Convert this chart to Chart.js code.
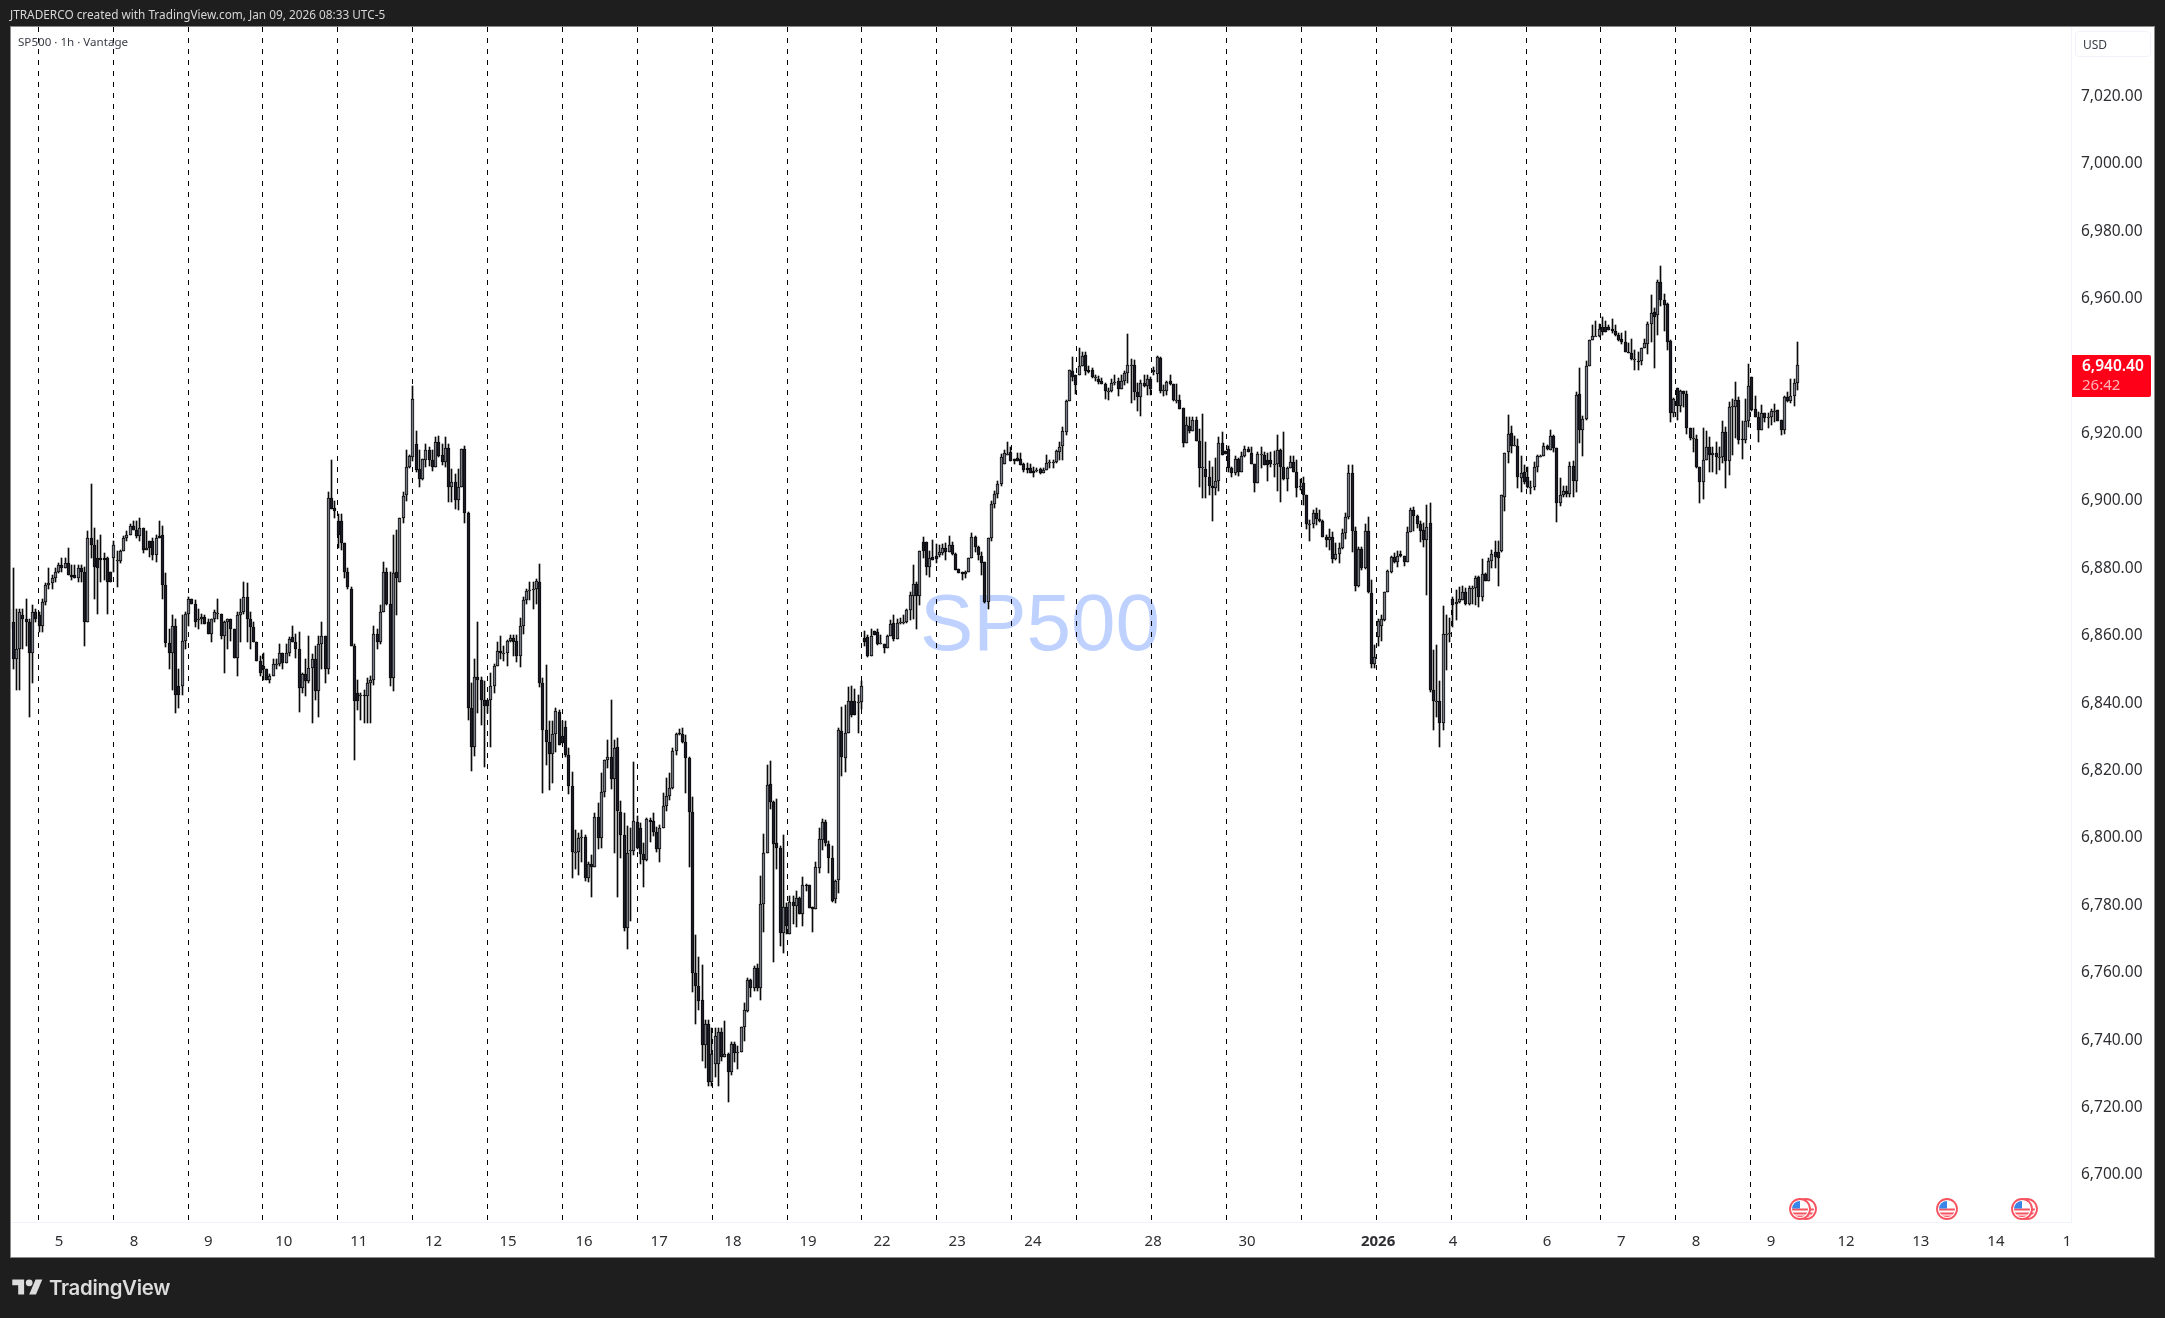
<!DOCTYPE html>
<html><head><meta charset="utf-8"><title>SP500</title>
<script src="https://cdn.jsdelivr.net/npm/chart.js@4/dist/chart.umd.min.js"></script>
<style>
html,body{margin:0;padding:0;background:#1e1e1e;width:2165px;height:1318px;overflow:hidden;font-family:"Noto Sans",sans-serif}
#panel{position:absolute;left:10px;top:26px;width:2143px;height:1230px;background:#fff;border:1px solid #8a8a8a}
canvas{position:absolute;left:0;top:0}
.t{position:absolute;white-space:nowrap}
#head{left:10px;top:5px;font-size:11.8px;line-height:18px;color:#d6d6d6}
#sym{left:18px;top:34px;font-size:11.6px;line-height:16px;color:#3a3d46}
#usd{left:2075px;top:31px;width:76px;height:26px;box-sizing:border-box;border:1px solid #f0f3fa;border-radius:4px;font-size:12px;line-height:26px;padding-left:7px;color:#3a3d46}
#last{left:2072px;top:355px;width:79px;height:42px;background:#ff0019;border-radius:0 2px 2px 0}
#last b{position:absolute;left:10px;top:0;font-size:15.5px;line-height:21px;color:#fff;font-weight:600}
#last i{position:absolute;left:10px;top:19px;font-size:15px;line-height:21px;color:#ffb3ba;font-style:normal}
#brand{left:49px;top:1274px;font-family:Inter,"Noto Sans",sans-serif;font-weight:600;font-size:20.4px;line-height:28px;color:#dcdcdc;letter-spacing:-.3px}
svg{position:absolute}
</style></head><body>
<div id="panel"></div>
<canvas id="c" width="2165" height="1318"></canvas>
<div class="t" id="head">JTRADERCO created with TradingView.com, Jan 09, 2026 08:33 UTC-5</div>
<div class="t" id="sym">SP500 · 1h · Vantage</div>
<div class="t" id="usd">USD</div>
<div class="t" id="last"><b>6,940.40</b><i>26:42</i></div>
<svg style="left:12px;top:1276px" width="31" height="22" viewBox="0 0 36 26" fill="#dcdcdc"><path d="M14 22H7V11H0V4h14v18zM28 22h-8l7.5-18h8L28 22z"/><circle cx="20" cy="8" r="4"/></svg>
<div class="t" id="brand">TradingView</div>
<script>
const opens=[
6868,6864,6853,6856,6866,6865,6864,6855,6867,6866,
6863,6870,6875,6875.5,6877,6879,6881,6880,6881.5,6878,
6878,6877,6880,6879,6864,6889,6887,6883,6883,6883,
6883,6879,6883,6882.5,6882.3,6885,6889,6890,6892.5,6891.5,
6889.5,6892,6885.5,6888,6888,6884,6889.5,6890,6875,6857.7,
6855,6863,6845,6845,6858.5,6866.5,6871,6869.5,6865,6865,
6865.5,6864,6860.5,6865,6866.5,6866.5,6860,6864,6865,6862,
6853.5,6866,6867,6871.5,6865,6862.5,6858,6852.5,6851,6850,
6847,6848,6851.5,6851.5,6855,6852,6855,6859.5,6858,6856,
6844.5,6848.7,6846.5,6850.5,6853,6843.5,6857.5,6860,6850,6901,
6898,6894,6894,6887.5,6879,6874,6857,6843,6842,6842.5,
6842,6846,6847,6860.5,6858,6867,6879,6869.5,6847.5,6879,
6876,6895,6901.8,6910.2,6912.9,6916.8,6909.4,6906.4,6912,6915,
6912,6910,6917.4,6913.7,6911.4,6915.6,6904.2,6905.5,6900.3,6904.2,
6915.3,6896.3,6838.5,6827,6847.7,6846.8,6841,6841,6841,6845,
6851,6855.6,6854.5,6855,6858.5,6859.3,6858.5,6853.9,6863,6870.7,
6873.5,6873.7,6873.8,6876,6846,6832.1,6828.6,6825,6830.8,6837.3,
6830.2,6832.8,6824.5,6815.5,6795.9,6795.9,6799.9,6800.3,6788,6792.4,
6791.3,6806.3,6800,6813.7,6823.1,6823.9,6817.5,6826.9,6807.8,6801,
6773.2,6796,6796,6804.6,6803,6795.2,6793.6,6805.3,6804.9,6801.8,
6796.7,6803,6809.4,6812.5,6814.8,6825.9,6831,6830.9,6828.6,6823.8,
6807.8,6759.9,6756,6751.8,6738.5,6744.7,6727.6,6732.8,6732.8,6742.5,
6735,6736,6730.7,6739,6736.5,6736.6,6744,6748.7,6757.8,6755.6,
6761.5,6755.6,6780.4,6795.4,6815.9,6810.8,6798.4,6797,6771.8,6779.5,
6771.6,6781,6779.8,6782.2,6777.4,6785.9,6785.9,6779.4,6779,6791.2,
6799.5,6804.7,6798.1,6794,6781.9,6787.5,6831.7,6823.8,6831.2,6840.5,
6840.5,6840.3,6840.3,6859.3,6859.6,6853.9,6861.3,6861.1,6857.8,6857.4,
6856.5,6859.9,6863.8,6859,6863.9,6864,6864,6867.7,6871.9,6875.2,
6871.9,6887.7,6887.7,6880.3,6883.4,6883.6,6884,6884.5,6886.1,6884.9,
6886.9,6884.2,6879.7,6878.9,6878.3,6879,6883,6889.4,6886.4,6883.6,
6882,6870,6889,6899,6902,6905,6910.9,6914,6914.4,6912.4,
6912.7,6912.4,6910.9,6909.9,6909.7,6909,6909.2,6909.4,6908.2,6909.2,
6911.5,6911.5,6911.5,6914.6,6916.3,6920.3,6929.5,6938.4,6937.4,6937.4,
6940,6943.2,6938.9,6938.7,6936.7,6936.2,6935.5,6934.6,6932.7,6932.7,
6934.9,6935.6,6933.1,6935.7,6937.9,6940.4,6940.4,6932.4,6930.7,6934.9,
6934.1,6936.1,6938.1,6937.7,6942.5,6932.9,6932.7,6935.7,6934.6,6930,
6929.8,6927.5,6917.1,6922.1,6920.6,6924,6917.8,6910.2,6909.5,6907,
6904.5,6903.7,6906,6917.1,6914.9,6915.3,6909.9,6908.4,6912.4,6908.7,
6913.3,6915.3,6914.3,6911,6905.2,6914,6913.6,6912,6912.2,6911,
6911,6915.1,6910.2,6906.4,6909.9,6911.4,6908.7,6904.4,6905.2,6901.6,
6893.1,6893,6896.3,6894.6,6893.9,6889.4,6888.4,6889.4,6882.7,6884.2,
6886,6890.4,6895.3,6908.2,6891.2,6874.6,6885.7,6880,6891.1,6872.8,
6851.5,6859.7,6862.9,6864.7,6872.9,6879,6883.3,6882,6884.2,6883.7,
6882,6890.9,6897.3,6895.6,6893,6891.4,6888.4,6893.4,6843.9,6840.5,
6840.5,6834.1,6860.5,6860.5,6870.9,6869.4,6870,6870.7,6873.1,6869.4,
6874.1,6874.1,6877.3,6871.6,6878.3,6876.1,6882.3,6884.7,6884.7,6885,
6901.3,6914.4,6920.1,6916.6,6916.4,6906.9,6908.7,6907,6904.1,6904,
6910,6913.2,6913.2,6916.2,6915.2,6919.3,6915.6,6899.3,6901.6,6902.8,
6902.1,6910.4,6905.8,6931.7,6921.1,6924.3,6939.9,6947.6,6949,6948.8,
6951.5,6951.5,6951.7,6951,6950.3,6949.2,6948,6947,6944.3,6943.8,
6942,6941.6,6941.4,6945.3,6946.6,6952.5,6956,6955.2,6964.9,6959.7,
6958.4,6947.5,6926.2,6933.4,6928.3,6932.5,6931.7,6921.6,6918.6,6918.3,
6910,6905.6,6912,6916,6913.5,6914.2,6913,6913,6920.4,6911.7,
6928.2,6927.8,6930,6918.3,6918.1,6923.6,6936.7,6927.2,6924.8,6921.1,
6926,6925,6925,6926.7,6926.9,6923.9,6921.1,6930.8,6929.5,6931,6934.9];
const highs=[
6870,6880,6868,6868,6868,6871,6865,6869,6868,6867,
6871,6875.5,6880,6878,6880,6881.5,6883,6883,6886,6881,
6881,6881,6881,6880.5,6891,6905,6892,6888.5,6890,6884.5,
6883.5,6879,6888,6885,6885.5,6889.5,6891,6893,6894,6894,
6895,6892,6891,6888,6889,6890,6894,6892.5,6878.5,6862,
6866,6865,6850,6866,6867,6871.5,6871,6870.5,6868,6866.5,
6866,6865,6865,6867.5,6871,6866.5,6864.5,6865,6865,6862,
6867,6871,6876,6875.5,6867,6864,6858,6854,6855,6850,
6848.5,6853,6853,6857.5,6855,6857.5,6859.5,6863,6860.5,6861,
6849,6853,6860,6854.5,6857,6860,6864,6860,6902.5,6912,
6900,6896,6896,6887.5,6880,6874.5,6857.5,6847,6843,6844,
6847.5,6848,6863,6862,6869,6882,6880,6879,6890,6891.5,
6895,6902.5,6915,6913.5,6934,6920.8,6915,6912.3,6917,6916,
6915,6919,6919.3,6917,6919,6917,6909.4,6908,6909.4,6915.3,
6916.3,6896.8,6846,6853,6864,6847.7,6846.5,6841,6848.8,6851.7,
6858,6859.8,6856.9,6858.7,6860.1,6860.3,6860.3,6865.4,6871.5,6874,
6875.8,6875.8,6876.9,6881.2,6847.5,6851.3,6834.6,6834.6,6838.6,6838,
6834.6,6834.6,6826.7,6819.6,6802.4,6801.5,6802.5,6800.8,6792.8,6794.9,
6807.3,6810.3,6819.3,6823.1,6829.1,6841,6829.1,6829.7,6811,6807.4,
6803.5,6802.9,6822.4,6806.5,6804.4,6798.4,6806,6805.8,6807.3,6803.3,
6803.9,6813.4,6817.7,6819.3,6826.7,6831,6832.3,6832.7,6830.6,6823.9,
6812.1,6771.3,6764.6,6762.4,6746.1,6746.1,6743.5,6743.5,6743.5,6743.5,
6745.7,6736.3,6739.5,6739.5,6738.2,6743.8,6751.1,6758.3,6758.1,6762.1,
6762.6,6788.8,6801.3,6821.6,6822.7,6811,6811.6,6797.5,6801,6780.6,
6782.8,6782.8,6784.3,6782.5,6788.3,6786.4,6785.9,6779.5,6792.8,6802.8,
6805.5,6805.3,6799.1,6797.5,6787.5,6832.5,6838.9,6839.4,6844.7,6845,
6844.3,6842.5,6846.6,6861.4,6860.1,6862.1,6861.3,6862.1,6860.3,6857.4,
6860.1,6864.8,6866.1,6865.1,6865.4,6866.2,6868,6873,6881,6876,
6885.2,6889.2,6887.9,6885.2,6888.4,6887.2,6886.9,6887.2,6887.4,6889.6,
6887.9,6884.4,6879.7,6878.9,6879.3,6883,6890.6,6889.6,6886.6,6884.9,
6882,6888.9,6900,6903,6906,6913.8,6915.1,6917.6,6916.1,6912.4,
6914.1,6914.1,6911.2,6911.2,6911,6910.2,6909.7,6909.7,6909.7,6913.6,
6912.2,6912.2,6915.1,6917.6,6921.9,6930,6938.9,6942.6,6937.4,6945.3,
6944.3,6944.1,6939.9,6939.4,6937.4,6937.1,6936.4,6934.9,6933.4,6936.1,
6937.4,6936.4,6937.4,6938.4,6949.5,6942,6941.8,6934.9,6935.9,6937.4,
6937.4,6936.9,6939.7,6943,6942.8,6934.4,6935.6,6937.4,6934.6,6934.7,
6931.4,6927.5,6925,6924.8,6925,6925,6921.3,6925.8,6917.6,6911.7,
6910,6912.7,6918.9,6920.3,6914.9,6916.3,6910.2,6913.2,6912.7,6914.6,
6916.3,6916.1,6915.9,6911,6914.6,6916.1,6914.6,6914.3,6914.6,6914.9,
6919.5,6915.3,6920.4,6910.2,6913.2,6913.4,6912.2,6906.4,6907.2,6901.6,
6894.4,6897.3,6897.8,6897.3,6894.4,6889.9,6891.6,6890.9,6887.6,6887.5,
6891.6,6896.3,6910.7,6910.7,6892.2,6886.4,6886.4,6893.2,6895.1,6876.6,
6857.3,6865,6866.2,6872.9,6879.5,6883.7,6884.5,6885,6885,6883.7,
6892.4,6897.8,6898.3,6895.8,6893.9,6893.4,6898.8,6899.3,6855.8,6857.1,
6846.6,6868.9,6866.2,6865.2,6871.5,6873.6,6874.4,6874.6,6874.1,6874.6,
6874.6,6877.8,6877.8,6882.7,6878.6,6883,6885.5,6888,6888,6901.8,
6914.2,6925.5,6922.1,6919.3,6918.3,6913.4,6910.7,6910.2,6905.8,6911.4,
6913.7,6913.7,6917.1,6916.6,6921.1,6919.6,6915.6,6906.8,6904.5,6904.5,
6911.4,6911.7,6932.2,6939.4,6925.2,6941.4,6947.8,6952.2,6953.5,6952.5,
6954.5,6953.5,6952.2,6953.9,6952.2,6949.8,6949.8,6950.3,6946.8,6948.1,
6944.8,6944.3,6945.3,6948,6953,6961.1,6957.2,6965.6,6969.8,6961.4,
6958.7,6947.8,6930.5,6933.4,6932.8,6932.5,6932.7,6921.6,6921.6,6919.5,
6910.2,6921.6,6920.6,6919.1,6916.1,6917.6,6916,6923.8,6921.9,6929.2,
6930.2,6935.2,6930.8,6923.6,6930.2,6940.6,6936.9,6931,6926.5,6928.5,
6926,6926,6927.2,6928.8,6927,6923.9,6931,6932.2,6936.1,6936.1,6947.1];
const lows=[
6861,6850,6844,6844,6856,6857,6836,6846,6864,6861,
6861,6869,6874,6874,6876,6878.5,6879,6880,6878,6876.5,
6877,6876,6876,6857,6864,6883,6871,6866.5,6876,6876.5,
6866.5,6876,6879,6874.5,6881.7,6885,6888,6890,6891.5,6889,
6888,6884.5,6885.5,6883.5,6882.5,6882,6889,6871,6856.7,6850,
6844,6837,6838.5,6842.5,6856,6863,6869.5,6862.5,6862,6863.5,
6863.5,6860.5,6858,6864,6865,6859,6849,6856,6858.5,6853.5,
6848,6858,6866.5,6858,6856,6858,6852.5,6848,6847,6847,
6846,6848,6850,6851,6850,6852,6854,6858,6853.5,6837.5,
6843,6842,6846,6834,6841,6836,6850,6846,6848.5,6897.5,
6895,6886,6885.5,6877,6874,6857,6823,6838,6835,6834,
6834,6834,6845.5,6856,6857.5,6867,6869,6845,6843.5,6866,
6876,6893.5,6900,6909.9,6911.7,6908.7,6904.2,6906.2,6910,6910.4,
6909,6910,6913,6910.7,6910,6899.8,6899.8,6897.6,6897.4,6904,
6893.5,6835,6820,6824.3,6837,6833.5,6821,6837,6827,6843,
6851,6853,6852.4,6850.9,6858.2,6853.9,6852.3,6850.7,6860.6,6869.3,
6870.7,6867.8,6869.4,6844.7,6813.2,6821.6,6814.3,6816.4,6825.4,6827.5,
6828.2,6823.9,6812.9,6788.2,6790.7,6788.9,6792.8,6787.1,6786.9,6782.6,
6791.3,6796.7,6797,6812.1,6820.7,6814.5,6795.4,6782.5,6793.9,6772.4,
6767.1,6775.3,6795,6796.6,6792.4,6785.5,6793.3,6798.8,6800.5,6795.9,
6793,6802.8,6808.1,6811.4,6814.5,6824.5,6830.6,6828.3,6813.4,6791.5,
6754.3,6744.8,6748.9,6733.9,6731.8,6726.5,6726.4,6729.2,6726.5,6733.9,
6735,6721.8,6729.7,6733.5,6731.3,6736.5,6739.8,6748.3,6752.9,6754.6,
6754.6,6751.8,6772.1,6795.4,6808.7,6763.1,6790.7,6767.9,6766,6771.6,
6771.6,6774.5,6773.6,6777.4,6774,6784.3,6779.3,6772.1,6779,6789.6,
6796.3,6797.5,6789.6,6780.9,6780.6,6783.7,6818.5,6819.6,6831.2,6835.9,
6836.4,6831,6838.4,6856.9,6853.7,6853.9,6860.1,6857.1,6857.4,6854.8,
6856.5,6859.9,6858.3,6859,6863.6,6863.5,6863.8,6864.8,6865,6862.1,
6869,6883,6878,6877.5,6882.5,6881.7,6883.4,6884,6882.5,6884.9,
6884,6879.5,6878.5,6876.5,6877,6878.8,6883,6884.9,6882.5,6878,
6869.8,6868,6888,6898,6901,6904.5,6910.9,6913.6,6911.7,6911,
6911.7,6910.7,6908.7,6908.2,6908.2,6907.2,6908.7,6907.9,6908.2,6909.2,
6909.7,6909.7,6911.2,6912.2,6912.2,6919.6,6929.5,6935.7,6931.7,6937.4,
6939.9,6937.4,6937.9,6936.4,6935.7,6934.7,6934.6,6930.3,6929.8,6932.4,
6934.4,6931,6933.1,6934.4,6934.9,6929,6929.8,6926.8,6925.3,6933.9,
6931.4,6931.4,6937.4,6935.4,6931.9,6931.1,6931.4,6934.4,6929.5,6929,
6927.2,6915.9,6917.1,6920.1,6920.6,6917.9,6904,6900.8,6900.8,6901.8,
6893.9,6901.8,6902.8,6913.6,6913.8,6908.7,6907.2,6907.7,6907.4,6908.7,
6913.1,6914.4,6911,6902.5,6905.2,6909.7,6910.5,6906,6910.2,6907.2,
6903,6899.8,6906.2,6902.8,6909.7,6908.7,6901.3,6903.3,6898.8,6891.7,
6888.1,6891.9,6892.9,6893.6,6889.2,6886.2,6885.5,6881.7,6882.5,6881.5,
6885.7,6888.8,6894.7,6884.7,6873.4,6874.4,6879.5,6879.7,6872.6,6850.3,
6850.3,6856.8,6858.4,6864.4,6872.9,6878.7,6881.7,6880.5,6883.5,6880.8,
6882,6890.9,6891.1,6891.9,6887.9,6886.2,6872.1,6843.4,6832.1,6835.8,
6826.9,6832.1,6849.7,6858,6862.5,6864.7,6869.7,6870.7,6869.2,6869.2,
6869.5,6869,6868.4,6870.4,6876.1,6876.1,6880,6880,6874.6,6884.7,
6897,6911.2,6914.2,6916.4,6903.8,6902.5,6905.1,6903.8,6902.1,6903.3,
6908.7,6913,6913.2,6915.2,6915.2,6914.4,6893.6,6898.4,6901.3,6901.3,
6901.3,6901.3,6902.5,6917.3,6913.2,6924.1,6939.9,6947.6,6948.8,6948.6,
6949.3,6950,6950.8,6949.8,6949,6947.3,6946.6,6944.3,6943.8,6941.9,
6938.9,6938.7,6940.4,6945.3,6943.6,6947.1,6939.4,6949.3,6957.9,6950.3,
6944.8,6923.3,6925,6924,6926.5,6928,6919.9,6918.1,6914.6,6909.7,
6899.5,6900.6,6912,6908.7,6908.7,6908,6909.2,6911.2,6903.7,6907.7,
6913.7,6918.6,6916.9,6912.4,6917.1,6922,6926.7,6924.8,6917.6,6921,
6923.4,6921.6,6922.4,6923.3,6923.6,6919.6,6919.9,6929.2,6929,6928.3,6932.8];
const closes=[
6862,6853,6856,6867,6865,6864,6855,6867,6865,6863,
6870,6875,6875.5,6877,6879,6881,6880,6881.5,6878,6877.5,
6877,6880,6879,6864,6889,6887,6880.5,6880,6882.5,6882.5,
6876,6876,6887,6882.6,6885,6889,6890,6892.5,6891.5,6889.5,
6892,6885.5,6886,6886,6884,6889,6889,6875,6857.7,6855,
6863,6842.5,6842.5,6858.5,6866.5,6871,6869.5,6864,6865,6865.5,
6863.5,6860.5,6865,6867,6866.6,6860,6864,6865,6862,6853.5,
6866,6867,6871.5,6865,6862.5,6858,6852.5,6849,6850,6847,
6848,6851.5,6851.5,6855,6852,6855,6859,6858,6856,6844.5,
6848.7,6846.5,6850.5,6853,6843.5,6857.5,6860,6850,6901,6897.5,
6897,6890,6887.5,6879,6874.5,6857,6840.5,6840.5,6842.5,6842,
6846,6847,6860.5,6858,6867,6879,6869.5,6847.5,6878.5,6877,
6895,6901.5,6910,6913.3,6930.3,6909.2,6906.4,6912.3,6915,6912,
6910.2,6917.4,6913.3,6911.4,6915.8,6904.2,6905.5,6900.3,6904.2,6915.3,
6896.5,6838.5,6827,6847.7,6846.8,6841,6839,6839,6845,6851,
6855.6,6854.8,6855,6858.5,6859.3,6858.2,6853.9,6863,6870.7,6873.2,
6873.7,6874,6876.2,6846,6831.9,6828.6,6825,6830.8,6837.6,6827.5,
6828.2,6824.5,6815.5,6795.9,6795.9,6799.9,6800.3,6788,6792.3,6791.3,
6806.3,6800,6813.7,6823.1,6823.9,6817.5,6826.7,6808.1,6800.8,6773.2,
6795.6,6796.3,6804.9,6797.1,6795.2,6793.6,6805.5,6804.8,6801.8,6796.7,
6803,6809.4,6812.5,6814.8,6825.9,6830.7,6830.7,6828.6,6823.7,6807.8,
6759.9,6756,6751.5,6738.5,6744.7,6727.6,6735.8,6741.2,6742.5,6735,
6736,6730.5,6739,6736.3,6736.6,6743.8,6748.9,6757.8,6755.6,6761.5,
6755.6,6780.4,6795.4,6815.8,6810.8,6798.1,6797,6771.8,6779.5,6773.8,
6781.1,6779.8,6782.2,6777.4,6786.1,6785.6,6779.3,6779,6791.4,6799.7,
6804.7,6798.4,6794,6781.4,6787.3,6831.9,6824,6831.2,6840.5,6836.4,
6836.4,6840.3,6845,6858.2,6853.9,6859.9,6860.1,6857.4,6857.8,6856.4,
6859.9,6863.4,6859,6863.8,6864,6864,6867.5,6872.2,6875.2,6871.9,
6885.2,6885.2,6880.3,6883,6882.5,6882.7,6884.7,6886.1,6884.9,6886.9,
6884.2,6879.5,6878.7,6878.2,6879,6883,6889.4,6886.4,6883.9,6881.7,
6870.1,6888.9,6899,6902,6905,6913,6914.1,6914,6911.9,6911.7,
6911.7,6910.7,6909.2,6909.2,6908.2,6908.2,6909.2,6908.2,6909.2,6911.2,
6911.5,6911.5,6914.8,6916.1,6920.6,6929.5,6938.7,6936.9,6934.4,6940,
6943,6938.4,6938.1,6936.7,6936.7,6935.4,6934.6,6932.6,6932.7,6934.9,
6935.4,6933.1,6935.6,6937.9,6940.4,6940.4,6932.4,6930.7,6934.9,6934.1,
6936.3,6933.1,6938.9,6942.6,6932.7,6932.9,6935.4,6934.7,6929.8,6930,
6927.2,6917.1,6922.6,6920.6,6924,6917.9,6909.9,6910.2,6907,6904.5,
6903.7,6906,6917.1,6913.6,6913.8,6909.9,6908.4,6912.4,6908.7,6913.3,
6915.3,6914.4,6911,6905.2,6913.9,6914,6910.5,6910.7,6911,6911,
6915.1,6910.2,6906.4,6909.9,6911.4,6908.7,6903.7,6904.4,6901.8,6893.1,
6893.1,6896.3,6894.6,6893.9,6889.4,6888.4,6889.4,6882.7,6884.2,6886,
6890.4,6895.3,6908.2,6891.2,6874.6,6885.7,6880,6891.1,6873.1,6851.5,
6853.8,6864.4,6864.9,6872.9,6879.2,6883.3,6882,6883.7,6883.7,6881.8,
6890.9,6897.3,6895.6,6893.2,6891.2,6888.4,6892.4,6843.9,6840.5,6840.5,
6834.1,6860.5,6860.5,6860.8,6869.2,6870,6870.9,6873.1,6869.4,6874.1,
6874.1,6877.1,6871.6,6878.3,6876.3,6882.3,6884.3,6883.3,6883,6901.6,
6914.2,6919.8,6916.4,6916.6,6907,6908.2,6905.6,6904.1,6904.1,6910,
6913.2,6913.2,6916.2,6915.4,6919.4,6915.7,6899.3,6901.6,6902.8,6902.1,
6910.4,6905.8,6931.5,6921.1,6924.3,6939.9,6947.6,6948.8,6949,6951,
6950,6950,6950.8,6950.3,6949.2,6947.8,6947,6944.3,6943.8,6942,
6942,6941.4,6945.3,6946.8,6952.5,6955.7,6954.7,6964.9,6959.7,6958.2,
6947,6926.2,6930.2,6928.3,6932.5,6931.7,6921.6,6918.6,6918.6,6910,
6905.6,6912,6916,6913.5,6914.2,6913,6913,6920.4,6911.7,6927.8,
6928.2,6930,6918.1,6918.1,6923.6,6934.1,6927,6924.8,6921.1,6926,
6924.7,6925,6926.7,6926.7,6923.6,6921.1,6930.8,6929.5,6931,6934.9,6940.4];
const priceTicks=[6700,6720,6740,6760,6780,6800,6820,6840,6860,6880,6900,6920,6940,6960,6980,7000,7020];
const dayTickLabels=["5","8","9","10","11","12","15","16","17","18","19","22","23","24","28","30","2026","4","6","7","8","9","12","13","14","1"];
const dayTickIndex=[15.14,38.2,61.1,84.3,107.4,130.4,153.3,176.7,199.8,222.5,245.6,268.4,291.5,314.8,351.8,380.7,421,444.1,473,495.8,518.8,541.9,565,588,611.1,633];
const sessionLineIndex=[8.83,31.91,54.98,77.75,100.83,123.91,146.98,170.06,193.14,216.22,239.29,262.06,285.14,308.22,328.22,351.29,374.37,397.45,420.52,443.6,466.68,489.45,512.52,535.6];

const UP='#787b86',DOWN='#1b1c28',EDGE='#0a0a0a',AXIS='#f0f3fa',TXT='#2e2e33';
const bodies=opens.map((o,i)=>({x:i,y:[o,closes[i]]}));
const wicks=highs.map((h,i)=>({x:i,y:[lows[i],h]}));
const crisp={id:'crisp',afterDatasetsUpdate(chart){
  chart.getSortedVisibleDatasetMetas().forEach(m=>m.data.forEach(el=>{
    el.x=Math.floor(el.x)+0.5;
    el.y=Math.round(el.y);el.base=Math.round(el.base);
    if(el.base===el.y)el.base=el.y+1;
  }));
}};
const watermark={id:'watermark',beforeDraw(chart){
  const c=chart.ctx;c.save();c.font='80px "Liberation Sans",Arial,sans-serif';
  c.fillStyle='#bfd2ff';c.textAlign='center';c.textBaseline='alphabetic';
  c.fillText('SP500',1040,650);c.restore();
}};
new Chart(document.getElementById('c'),{
  type:'bar',
  data:{datasets:[
    {data:bodies,xAxisID:'x',yAxisID:'y',barThickness:3,grouped:false,borderWidth:1,borderSkipped:false,borderColor:EDGE,
     backgroundColor:opens.map((o,i)=>closes[i]>=o?UP:DOWN)},
    {data:wicks,xAxisID:'x',yAxisID:'y',barThickness:1,grouped:false,borderWidth:0,backgroundColor:EDGE}
  ]},
  plugins:[crisp,watermark],
  options:{
    responsive:false,animation:false,events:[],
    layout:{padding:{left:11,top:27,right:0,bottom:0}},
    plugins:{legend:{display:false},tooltip:{enabled:false}},
    scales:{
      x:{type:'linear',axis:'x',position:'bottom',offset:false,min:0.369,max:634.2,
        afterFit(s){s.height=96},
        afterBuildTicks(s){s.ticks=dayTickIndex.map(value=>({value}))},
        grid:{display:false,drawTicks:false,offset:false},
        border:{display:true,color:AXIS,width:1},
        ticks:{autoSkip:false,maxRotation:0,padding:11,color:TXT,
          callback:(v,i)=>dayTickLabels[i],
          font:ctx=>({family:'"Noto Sans"',size:15,weight:ctx.tick&&ctx.tick.label==='2026'?'700':'400'})}},
      x2:{type:'linear',axis:'x',position:'bottom',offset:false,min:0.369,max:634.2,
        afterFit(s){s.height=0},
        afterBuildTicks(s){s.ticks=sessionLineIndex.map(value=>({value}))},
        grid:{display:true,drawTicks:false,color:'#000',lineWidth:1,offset:false},
        border:{display:false,dash:[5,6]},
        ticks:{display:false}},
      y:{type:'linear',position:'right',min:6686.05,max:7040.6,
        afterFit(s){s.width=94},
        afterBuildTicks(s){s.ticks=priceTicks.map(value=>({value}))},
        grid:{display:false,drawTicks:false},
        border:{display:true,color:AXIS,width:1},
        ticks:{padding:10,align:'center',crossAlign:'near',color:TXT,font:{family:'"Noto Sans"',size:15.5},
          callback:v=>v.toLocaleString('en-US',{minimumFractionDigits:2,maximumFractionDigits:2})}}
    }
  }
});
const flags=[1806,1799.5,1947,2027,2021.7];
flags.forEach(cx=>{
  const s=document.createElementNS('http://www.w3.org/2000/svg','svg');
  s.setAttribute('width','24');s.setAttribute('height','24');s.setAttribute('viewBox','0 0 24 24');
  s.style.left=(cx-12)+'px';s.style.top='1197px';
  s.innerHTML='<defs><clipPath id="f'+String(cx).replace('.','_')+'"><circle cx="12" cy="12" r="8"/></clipPath></defs><circle cx="12" cy="12" r="10" fill="#fff" stroke="#f7525f" stroke-width="1.8"/><g clip-path="url(#f'+String(cx).replace('.','_')+')"><rect x="2" y="11.5" width="20" height="2" fill="#f7525f"/><rect x="2" y="15.5" width="20" height="2" fill="#f7525f"/><rect x="2" y="18.6" width="20" height="3" fill="#f7525f"/><rect x="2" y="2" width="10" height="9.5" fill="#3a86e8"/></g>';
  document.body.appendChild(s);
});
</script>
</body></html>
